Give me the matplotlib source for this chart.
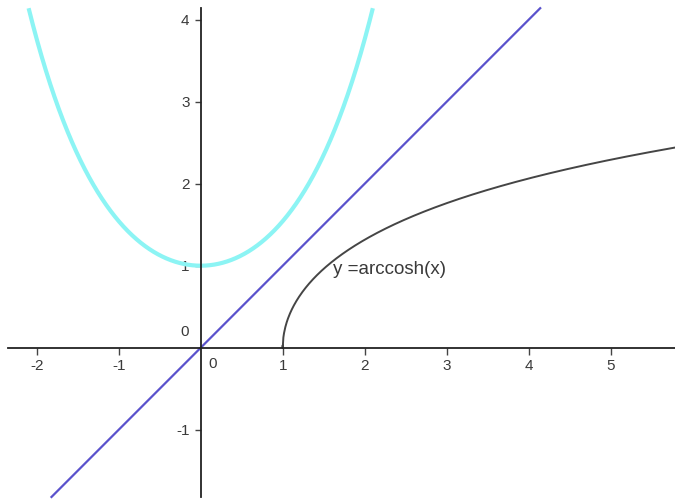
import numpy as np
import matplotlib
matplotlib.use("Agg")
import matplotlib.pyplot as plt

plt.rcParams['font.family'] = ['Liberation Sans', 'DejaVu Sans']
plt.rcParams['axes.unicode_minus'] = False

# axis ranges and ticks
x_min, x_max = -2.35, 5.78
y_min, y_max = -1.82, 4.14
x_ticks = [-2, -1, 1, 2, 3, 4, 5]
y_ticks = [-1, 1, 2, 3, 4]
curve_label = "y =arccosh(x)"

fig = plt.figure(figsize=(6.75, 5), dpi=100)
ax = fig.add_axes([0, 0, 1, 1])
ax.set_xlim(-2.448, 5.784)
ax.set_ylim(-1.857, 4.240)

# cosh, y = x and arccosh
xc = np.linspace(-np.arccosh(y_max), np.arccosh(y_max), 400)
ax.plot(xc, np.cosh(xc), color='#8CF4F4', lw=3.0, solid_capstyle='butt')

xl = np.array([y_min, y_max])
ax.plot(xl, xl, color='#5A52CC', lw=1.6)

xa = np.linspace(1, 5.8, 600)
xa = np.concatenate([1 + np.linspace(0, 0.02, 200) ** 2, xa])
ax.plot(xa, np.arccosh(xa), color='#454545', lw=1.4)

ax.text(1.61, 0.95, curve_label, fontsize=13.5, color='#3a3a3a',
        va='center', ha='left')

# axes through the origin
for side in ['top', 'right']:
    ax.spines[side].set_visible(False)
ax.spines['left'].set_position(('data', 0))
ax.spines['bottom'].set_position(('data', 0))
ax.spines['left'].set_bounds(y_min, y_max)
ax.spines['bottom'].set_bounds(x_min, x_max)
for side in ['left', 'bottom']:
    ax.spines[side].set_color('#222222')
    ax.spines[side].set_linewidth(1.3)

ax.set_xticks(x_ticks)
ax.set_yticks(y_ticks)
ax.set_xticklabels([str(t) for t in x_ticks])
ax.set_yticklabels([str(t) for t in y_ticks])
ax.tick_params(axis='x', direction='out', length=5, width=1, color='#444444',
               labelsize=11, labelcolor='#3a3a3a', pad=3)
ax.tick_params(axis='y', direction='out', length=4, width=1, color='#444444',
               labelsize=11, labelcolor='#3a3a3a', pad=4)

ax.text(0.14, -0.11, "0", fontsize=11, color='#3a3a3a', ha='center', va='top')
ax.text(-0.20, 0.11, "0", fontsize=11, color='#3a3a3a', ha='center', va='bottom')

fig.savefig('out.png', dpi=100)
